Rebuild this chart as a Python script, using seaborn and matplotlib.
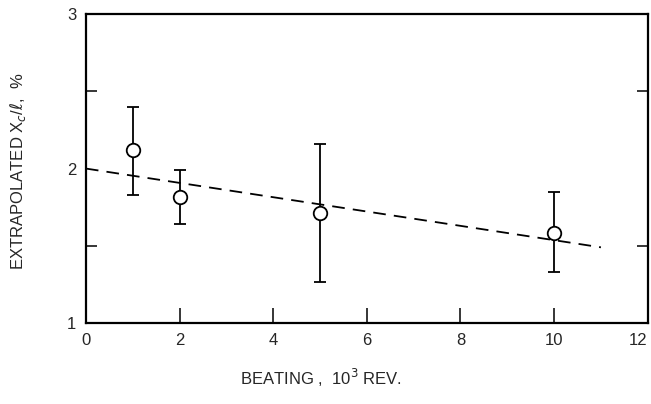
import matplotlib
matplotlib.use("Agg")
import matplotlib.pyplot as plt
import seaborn as sns
import pandas as pd

# Measurements: beating (10^3 rev) vs extrapolated Xc/l (%)
beating = [1, 2, 5, 10]
xc_l = [2.12, 1.815, 1.71, 1.58]
err_upper = [2.40, 1.99, 2.16, 1.85]
err_lower = [1.83, 1.64, 1.265, 1.33]

# Fitted trend line endpoints
trend_x = [0, 11]
trend_y = [2.0, 1.49]

x_ticks = [0, 2, 4, 6, 8, 10, 12]
y_ticks = [1, 2, 3]

sns.set_style("ticks")
plt.rcParams["font.family"] = ["Liberation Sans", "DejaVu Sans"]

fig = plt.figure(figsize=(6.51, 4.04), dpi=100)
ax = fig.add_axes([0.132, 0.2005, 0.863, 0.7645])

df = pd.DataFrame({"beating": beating, "xc": xc_l})
trend = pd.DataFrame({"x": trend_x, "y": trend_y})

sns.lineplot(data=trend, x="x", y="y", ax=ax, color="black", lw=1.3,
             linestyle=(0, (7, 4.5)))

yerr = [[v - lo for v, lo in zip(xc_l, err_lower)],
        [hi - v for v, hi in zip(xc_l, err_upper)]]
ax.errorbar(beating, xc_l, yerr=yerr, fmt="none", ecolor="black",
            elinewidth=1.3, capsize=4.5, capthick=1.3, zorder=3)
sns.scatterplot(data=df, x="beating", y="xc", ax=ax, s=95, marker="o",
                facecolor="white", edgecolor="black", linewidth=1.3, zorder=4)

ax.set_xlim(0, 12)
ax.set_ylim(1, 3)
ax.set_xticks(x_ticks)
ax.set_xticklabels([str(t) for t in x_ticks])
ax.set_yticks(y_ticks)
ax.set_yticklabels([str(t) for t in y_ticks])
ax.set_yticks([1.5, 2, 2.5], minor=True)

ax.tick_params(axis="x", direction="in", length=11, width=1.3, labelsize=12, pad=7,
               top=False)
ax.tick_params(axis="y", which="both", direction="in", length=8, width=1.3,
               labelsize=12, pad=7, right=True)
ax.tick_params(axis="y", which="major", length=0)
ax.get_xticklabels()[-1].set_ha("right")

for s in ax.spines.values():
    s.set_linewidth(1.6)
    s.set_color("black")

ax.set_xlabel("BEATING ,  10$^3$ REV.", fontsize=12)
ax.xaxis.set_label_coords(0.418, -0.143)
ax.set_ylabel("EXTRAPOLATED X$_c$/$\\ell$,  %", fontsize=12)
ax.yaxis.set_label_coords(-0.103, 0.49)

fig.savefig("out.png", dpi=100)
